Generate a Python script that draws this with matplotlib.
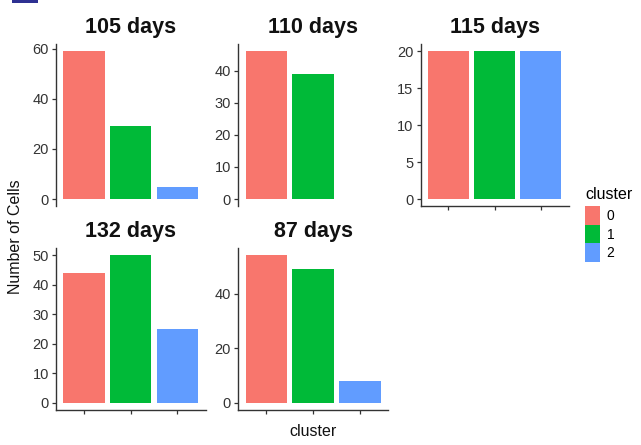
import matplotlib
matplotlib.use("Agg")
import matplotlib.pyplot as plt
from matplotlib.patches import Patch, Rectangle
from matplotlib.ticker import MultipleLocator, NullFormatter

plt.rcParams['font.family'] = ['Liberation Sans', 'DejaVu Sans']

# Cell counts per cluster for each sample age
panels = ["105 days", "110 days", "115 days", "132 days", "87 days"]
clusters = ["0", "1", "2"]
cluster0 = [59, 46, 20, 44, 54]
cluster1 = [29, 39, 20, 50, 49]
cluster2 = [5, 0, 20, 25, 8]
ytick_steps = [20, 10, 5, 10, 20]

colors = ["#F8766D", "#00BA38", "#619CFF"]
ink = "#333333"

W, H = 641, 445
fig = plt.figure(figsize=(W / 100, H / 100), dpi=100)
fig.patch.set_facecolor("white")

# panel boxes in pixels: (left, top, right, bottom)
col_x = [(56, 205.5), (238, 388), (420.5, 568.5)]
row_y = [(44, 206.4), (248, 410)]
grid = [(0, 0), (0, 1), (0, 2), (1, 0), (1, 1)]
has_xaxis = [False, False, True, True, True]


def px_axes(x0, y0, x1, y1):
    return fig.add_axes([x0 / W, 1 - y1 / H, (x1 - x0) / W, (y1 - y0) / H])


for i, name in enumerate(panels):
    r, c = grid[i]
    ax = px_axes(col_x[c][0], row_y[r][0], col_x[c][1], row_y[r][1])
    vals = [cluster0[i], cluster1[i], cluster2[i]]
    ax.bar(range(3), vals, width=0.88, color=colors, linewidth=0)
    top = max(vals)
    ax.set_ylim(-0.05 * top, 1.05 * top)
    ax.set_xlim(-0.6, 2.6)
    ax.yaxis.set_major_locator(MultipleLocator(ytick_steps[i]))
    ax.set_xticks(range(3))
    ax.xaxis.set_major_formatter(NullFormatter())
    for s in ["top", "right"]:
        ax.spines[s].set_visible(False)
    ax.spines["left"].set_color(ink)
    ax.spines["left"].set_linewidth(1.0)
    if has_xaxis[i]:
        ax.spines["bottom"].set_color(ink)
        ax.spines["bottom"].set_linewidth(1.0)
        ax.tick_params(axis="x", length=3, width=0.9, color=ink)
    else:
        ax.spines["bottom"].set_visible(False)
        ax.tick_params(axis="x", length=0)
    ax.tick_params(axis="y", length=3, width=0.9, color=ink,
                   labelsize=10.5, labelcolor=ink, pad=2)
    ax.set_facecolor("none")
    ax.set_title(name, fontsize=15.5, fontweight="bold", pad=8, color="#111111")

# shared axis labels
fig.text(16 / W, 1 - 237 / H, "Number of Cells", rotation=90,
         ha="center", va="center", fontsize=11.5, color="#111111")
fig.text(313 / W, 1 - 432 / H, "cluster", ha="center", va="center",
         fontsize=11.5, color="#111111")

# legend
handles = [Patch(facecolor=col, edgecolor="none", label=lab)
           for col, lab in zip(colors, clusters)]
leg = fig.legend(handles=handles, title="cluster", loc="upper left",
                 bbox_to_anchor=(585 / W, 1 - 187 / H), frameon=False,
                 fontsize=10, title_fontsize=11.5, handlelength=1.1,
                 handleheight=1.75, labelspacing=-0.05, handletextpad=0.45,
                 borderaxespad=0, borderpad=0)
leg._legend_box.align = "left"
leg._legend_box.sep = 3

# bottom stroke of the panel letter above the figure edge
fig.add_artist(Rectangle((12 / W, 1 - 2.5 / H), 26 / W, 2.5 / H,
                         transform=fig.transFigure, facecolor="#2E3192",
                         edgecolor="none"))

fig.savefig("out.png", dpi=100, facecolor="white")
